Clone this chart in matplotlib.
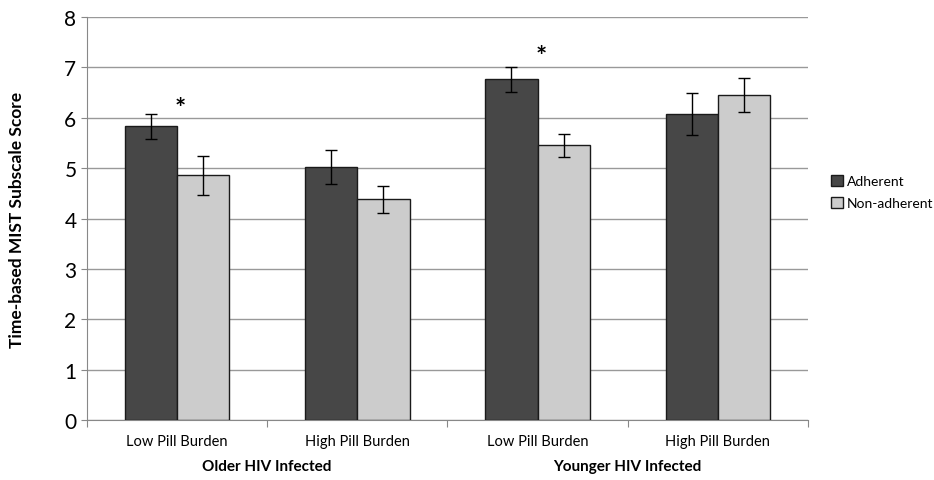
import numpy as np
import matplotlib.pyplot as plt

plt.rcParams['font.family'] = ['Lato', 'DejaVu Sans']

# data
categories = ['Low Pill Burden', 'High Pill Burden', 'Low Pill Burden', 'High Pill Burden']
groups = ['Older HIV Infected', 'Younger HIV Infected']
adherent = [5.83, 5.02, 6.76, 6.07]
adherent_err = [0.25, 0.33, 0.24, 0.42]
non_adherent = [4.86, 4.38, 5.45, 6.45]
non_adherent_err = [0.39, 0.27, 0.22, 0.34]
stars = [(0, 6.2), (2, 7.23)]

fig = plt.figure(figsize=(9.34, 4.81), dpi=100)
ax = fig.add_axes([0.093, 0.1247, 0.772, 0.8379])

x = np.arange(len(categories))
w = 0.29
ax.bar(x - w / 2, adherent, w, color='#474747', edgecolor='#1a1a1a', linewidth=1,
       yerr=adherent_err, error_kw=dict(ecolor='black', capsize=4, elinewidth=1, capthick=1),
       label='Adherent', zorder=3)
ax.bar(x + w / 2, non_adherent, w, color='#cccccc', edgecolor='#1a1a1a', linewidth=1,
       yerr=non_adherent_err, error_kw=dict(ecolor='black', capsize=4, elinewidth=1, capthick=1),
       label='Non-adherent', zorder=3)

for i, yv in stars:
    ax.text(i + 0.02, yv, '*', ha='center', va='center', fontsize=19, fontweight='bold')

ax.set_xlim(-0.5, 3.5)
ax.set_ylim(0, 8)
ax.set_yticks(range(9))
ax.tick_params(axis='y', labelsize=15, length=4, color='#888888')
ax.yaxis.grid(True, color='#999999', linewidth=1, zorder=0)
ax.set_axisbelow(True)

# category labels, ticks at boundaries
ax.set_xticks(np.arange(-0.5, 4, 1))
ax.set_xticklabels([])
ax.tick_params(axis='x', length=5, color='#888888')
for i, c in enumerate(categories):
    ax.text(i, -0.28, c, ha='center', va='top', fontsize=10.5)
for j, g in enumerate(groups):
    ax.text(2 * j + 0.5, -0.78, g, ha='center', va='top', fontsize=11, fontweight='bold')

for s in ['top', 'right']:
    ax.spines[s].set_visible(False)
ax.spines['left'].set_color('#888888')
ax.spines['bottom'].set_color('#888888')

ax.set_ylabel('Time-based MIST Subscale Score', fontsize=12.5, fontweight='bold', labelpad=28)

ax.legend(loc='center left', bbox_to_anchor=(1.025, 0.565), frameon=False, fontsize=10,
          handlelength=0.8, handleheight=0.8, handletextpad=0.3, labelspacing=0.7,
          borderaxespad=0)

fig.savefig('out.png', dpi=100)
